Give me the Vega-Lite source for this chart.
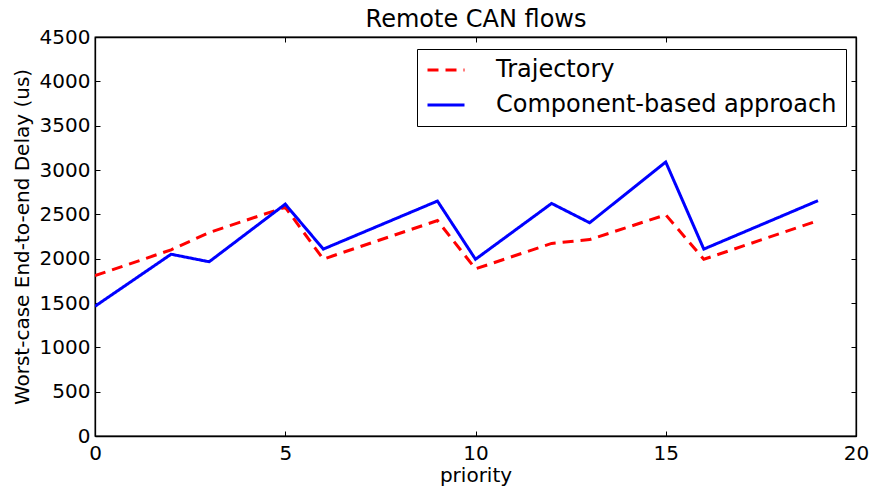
{
  "$schema": "https://vega.github.io/schema/vega-lite/v6.json",
  "autosize": "none",
  "width": 761,
  "height": 399,
  "padding": {"left": 95, "top": 37, "right": 16, "bottom": 52},
  "background": "white",
  "config": {
    "font": "DejaVu Sans",
    "view": {"stroke": "black", "strokeWidth": 1.3},
    "axis": {"grid": false, "domainColor": "black", "domainWidth": 1.3, "tickColor": "black", "tickWidth": 1, "labelColor": "black", "titleColor": "black", "labelFont": "DejaVu Sans", "titleFont": "DejaVu Sans", "titleFontWeight": "normal"}
  },
  "data": {"values": [
    {"priority": 0, "delay": 1808, "series": "Trajectory"},
    {"priority": 2, "delay": 2100, "series": "Trajectory"},
    {"priority": 3, "delay": 2295, "series": "Trajectory"},
    {"priority": 5, "delay": 2580, "series": "Trajectory"},
    {"priority": 6, "delay": 1995, "series": "Trajectory"},
    {"priority": 9, "delay": 2430, "series": "Trajectory"},
    {"priority": 10, "delay": 1885, "series": "Trajectory"},
    {"priority": 12, "delay": 2172, "series": "Trajectory"},
    {"priority": 13, "delay": 2215, "series": "Trajectory"},
    {"priority": 15, "delay": 2495, "series": "Trajectory"},
    {"priority": 16, "delay": 1993, "series": "Trajectory"},
    {"priority": 19, "delay": 2428, "series": "Trajectory"},
    {"priority": 0, "delay": 1463, "series": "Component-based approach"},
    {"priority": 2, "delay": 2050, "series": "Component-based approach"},
    {"priority": 3, "delay": 1965, "series": "Component-based approach"},
    {"priority": 5, "delay": 2615, "series": "Component-based approach"},
    {"priority": 6, "delay": 2108, "series": "Component-based approach"},
    {"priority": 9, "delay": 2650, "series": "Component-based approach"},
    {"priority": 10, "delay": 1993, "series": "Component-based approach"},
    {"priority": 12, "delay": 2623, "series": "Component-based approach"},
    {"priority": 13, "delay": 2405, "series": "Component-based approach"},
    {"priority": 15, "delay": 3090, "series": "Component-based approach"},
    {"priority": 16, "delay": 2108, "series": "Component-based approach"},
    {"priority": 19, "delay": 2654, "series": "Component-based approach"}
  ]},
  "resolve": {"axis": {"x": "independent", "y": "independent"}},
  "layer": [
    {
      "mark": {"type": "line", "strokeWidth": 3, "clip": true},
      "encoding": {
        "x": {"field": "priority", "type": "quantitative", "scale": {"domain": [0, 20], "nice": false},
              "axis": {"orient": "bottom", "values": [0, 5, 10, 15, 20], "format": "d", "tickSize": -5, "labelPadding": 12, "labelFontSize": 20, "title": "priority", "titleFontSize": 20, "titlePadding": 2, "labelFlush": false}},
        "y": {"field": "delay", "type": "quantitative", "scale": {"domain": [0, 4500], "nice": false, "zero": true},
              "axis": {"orient": "left", "values": [0, 500, 1000, 1500, 2000, 2500, 3000, 3500, 4000, 4500], "format": "d", "tickSize": -5, "labelPadding": 10, "labelFontSize": 20, "title": "Worst-case End-to-end Delay (us)", "titleFontSize": 20, "titlePadding": 7, "labelFlush": false}},
        "color": {"field": "series", "type": "nominal",
                  "scale": {"domain": ["Trajectory", "Component-based approach"], "range": ["#ff0000", "#0000ff"]},
                  "legend": {"title": null, "orient": "none", "legendX": 322, "legendY": 12, "symbolType": "stroke", "symbolSize": 1369, "symbolStrokeWidth": 3, "clipHeight": 24, "labelFontSize": 24, "labelOffset": 30, "labelFont": "DejaVu Sans", "labelColor": "black", "rowPadding": 11, "padding": 9, "strokeColor": "black", "fillColor": "white", "cornerRadius": 0, "labelLimit": 500}},
        "strokeDash": {"field": "series", "type": "nominal",
                  "scale": {"domain": ["Trajectory", "Component-based approach"], "range": [[11, 7], [1, 0]]},
                  "legend": null}
      }
    },
    {
      "mark": {"type": "point", "opacity": 0},
      "encoding": {
        "x": {"field": "priority", "type": "quantitative", "scale": {"domain": [0, 20], "nice": false},
              "axis": {"orient": "top", "values": [0, 5, 10, 15, 20], "tickSize": -5, "labels": false, "title": "Remote CAN flows", "titleFontSize": 24, "titlePadding": 5}},
        "y": {"field": "delay", "type": "quantitative", "scale": {"domain": [0, 4500], "nice": false},
              "axis": {"orient": "right", "values": [0, 500, 1000, 1500, 2000, 2500, 3000, 3500, 4000, 4500], "tickSize": -5, "labels": false, "title": null}}
      }
    }
  ]
}
